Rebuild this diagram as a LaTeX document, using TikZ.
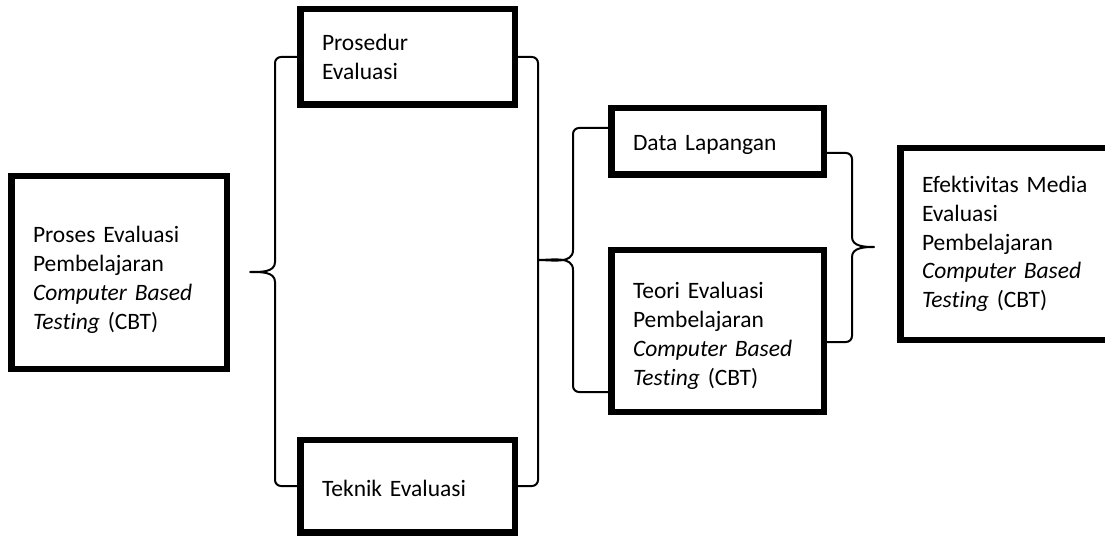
\documentclass[tikz,border=0pt]{standalone}
\usepackage{fontspec}
\setmainfont{Carlito}[Ligatures=NoCommon]
\newcommand{\toppad}[1]{\rule{0pt}{#1pt}}
\begin{document}
\begin{tikzpicture}[x=1pt,y=-1pt,
  box/.style={draw, line width=6.5pt, inner sep=0pt, align=left,
    font=\fontsize{23.5}{28.8}\selectfont},
  brace/.style={line width=2pt, line join=round, line cap=round}]
\useasboundingbox (0,0) rectangle (1105,537);
% boxes
\node[box, minimum width=215.5pt, minimum height=192.5pt, text width=172pt] (L) at (119,272.5)
  {\toppad{31}Proses Evaluasi\\Pembelajaran\\\textit{Computer Based}\\\textit{Testing} (CBT)};
\node[box, minimum width=214.5pt, minimum height=95.5pt, text width=171pt] (P) at (407.5,57)
  {Prosedur\\Evaluasi};
\node[box, minimum width=214.5pt, minimum height=92.5pt, text width=171pt] (T) at (407.5,486)
  {\toppad{21}Teknik Evaluasi};
\node[box, minimum width=212.5pt, minimum height=66.5pt, text width=169pt] (D) at (717.5,141.5)
  {\toppad{23}Data Lapangan};
\node[box, minimum width=212.5pt, minimum height=161.5pt, text width=169pt] (R) at (717.5,331)
  {\toppad{26}Teori Evaluasi\\Pembelajaran\\\textit{Computer Based}\\\textit{Testing} (CBT)};
\node[box, minimum width=236.5pt, minimum height=191.5pt, text width=193pt] (E) at (1018.5,244)
  {Efektivitas Media\\Evaluasi\\Pembelajaran\\\textit{Computer Based}\\\textit{Testing} (CBT)};
% brace end points
\coordinate (t1) at (250,272);
\coordinate (t2) at (538,260);
\coordinate (t3) at (874,247);
\coordinate (d1) at (610,128);
\coordinate (d2) at (610,392);
\coordinate (d3) at (825,153);
\coordinate (d4) at (825,342);
% first brace (left)
\draw[brace] (P.west) -- (281,57) to[out=180,in=90] (275,63) -- (275,262)
  to[out=270,in=0] (t1) to[out=0,in=90] (275,282) -- (275,480)
  to[out=270,in=180] (281,486) -- (T.west);
% first brace (right)
\draw[brace] (P.east) -- (532,57) to[out=0,in=90] (538,63) -- (538,480)
  to[out=270,in=0] (532,486) -- (T.east);
% second brace (left)
\draw[brace] (d1) -- (579,128) to[out=180,in=90] (573,134) -- (573,250)
  to[out=270,in=0] (t2) to[out=0,in=90] (573,270) -- (573,386)
  to[out=270,in=180] (579,392) -- (d2);
% second brace (right)
\draw[brace] (d3) -- (846,153) to[out=0,in=90] (852,159) -- (852,237)
  to[out=270,in=180] (t3) to[out=180,in=90] (852,257) -- (852,336)
  to[out=270,in=0] (846,342) -- (d4);
\end{tikzpicture}
\end{document}
